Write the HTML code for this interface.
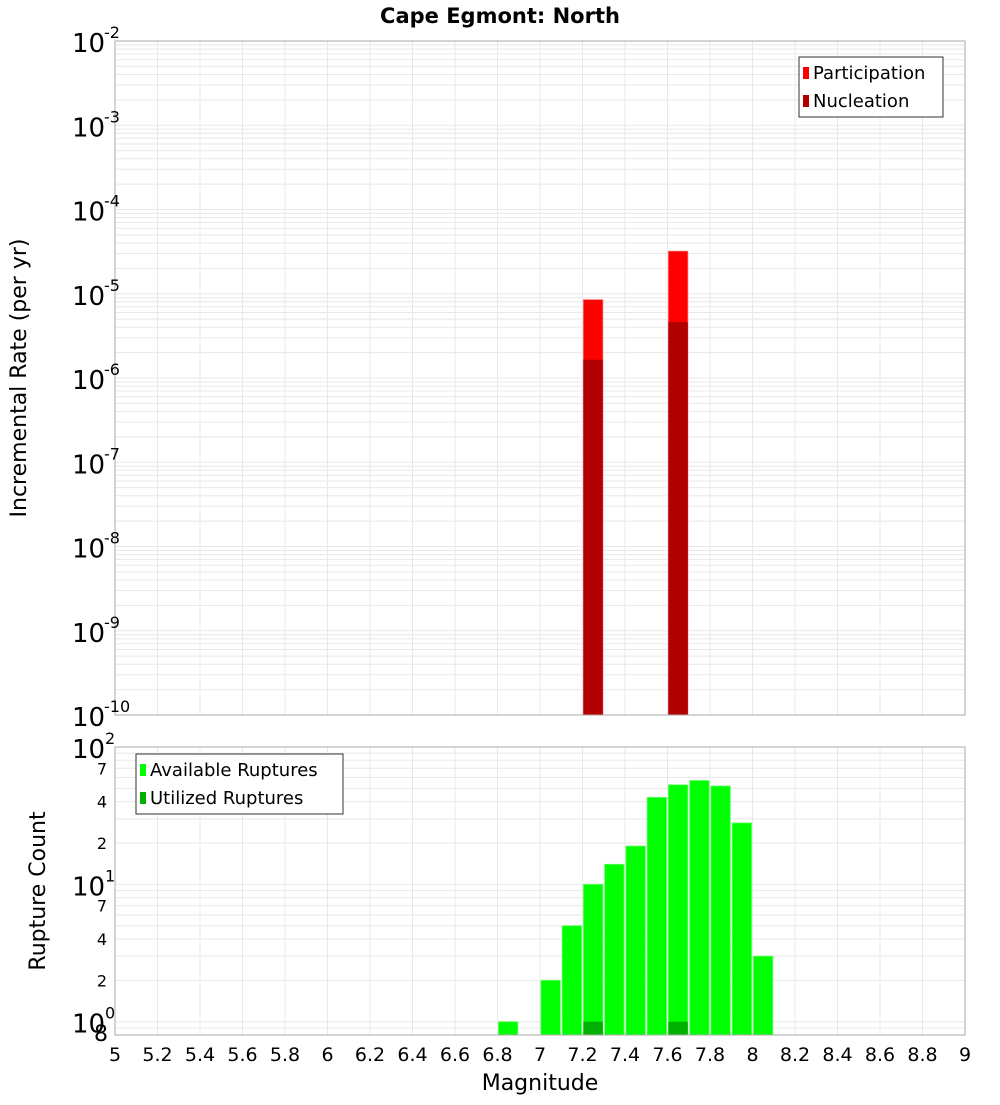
<!DOCTYPE html>
<html><head><meta charset="utf-8"><style>
body{margin:0;background:#fff;}
svg text{font-family:"DejaVu Sans","Liberation Sans",sans-serif;fill:#000;}
</style></head><body>
<svg id="c" width="1000" height="1100" xmlns="http://www.w3.org/2000/svg">
<text x="500" y="23" text-anchor="middle" font-size="21" font-weight="bold">Cape Egmont: North</text>
<g id="g1"></g>
<g id="g2"></g>
<text transform="translate(26,378) rotate(-90)" text-anchor="middle" font-size="22">Incremental Rate (per yr)</text>
<text transform="translate(45,891) rotate(-90)" text-anchor="middle" font-size="22">Rupture Count</text>
<text x="540" y="1090" text-anchor="middle" font-size="22">Magnitude</text>
</svg>
<script>
const partMags=[7.25,7.65];
const partRates=[8.5e-6,3.2e-5];
const nuclRates=[1.65e-6,4.6e-6];
const countMags=[6.85,7.05,7.15,7.25,7.35,7.45,7.55,7.65,7.75,7.85,7.95,8.05];
const availCounts=[1,2,5,10,14,19,43,53,57,52,28,3];
const usedMags=[7.25,7.65];
const usedCounts=[1,1];
const xTicks=[5,5.2,5.4,5.6,5.8,6,6.2,6.4,6.6,6.8,7,7.2,7.4,7.6,7.8,8,8.2,8.4,8.6,8.8,9];
const topExps=[-2,-3,-4,-5,-6,-7,-8,-9,-10];
const botMinor=[2,4,7,20,40,70];

const NS='http://www.w3.org/2000/svg';
const X0=115,X1=965;
const T0=41,T1=715,B0=747,B1=1035;
function sx(m){return X0+(m-5)/4*(X1-X0);}
function ty(v){return T0+(-2-Math.log10(v))/8*(T1-T0);}
function by(v){return B0+(2-Math.log10(v))/(2-Math.log10(0.8))*(B1-B0);}
function mk(p,tag,a){const e=document.createElementNS(NS,tag);for(const k in a)e.setAttribute(k,a[k]);p.appendChild(e);return e;}
const g1=document.getElementById('g1'),g2=document.getElementById('g2');

function grid(g,y0,y1,yf,lo,hi){
  for(const t of xTicks){const l=mk(g,'line',{x1:sx(t),x2:sx(t),y1:y0,y2:y1,stroke:'#e8e8e8'});
    
    }
  for(let e=lo;e<hi;e++)for(let k=1;k<10;k++){const v=k*Math.pow(10,e);const y=yf(v);if(y<y0-0.5||y>y1+0.5)continue;
    const l=mk(g,'line',{x1:X0,x2:X1,y1:y,y2:y,stroke:'#e8e8e8'});
    
    }
}
grid(g1,T0,T1,ty,-10,-1);
grid(g2,B0,B1,by,-1,3);

// top bars
const bw=19.4;
partMags.forEach((m,i)=>{
  const r=mk(g1,'rect',{x:sx(m)-bw/2,y:ty(partRates[i]),width:bw,height:T1-ty(partRates[i]),fill:'#ff0000',stroke:'#ff6060','stroke-width':0.8});
  
  
  const n=mk(g1,'rect',{x:sx(m)-bw/2,y:ty(nuclRates[i]),width:bw,height:T1-ty(nuclRates[i]),fill:'#b00000'});
  
  
});
// bottom bars
countMags.forEach((m,i)=>{
  const r=mk(g2,'rect',{x:sx(m)-bw/2,y:by(availCounts[i]),width:bw,height:B1-by(availCounts[i]),fill:'#00ff00',stroke:'#60ff60','stroke-width':0.8});
  
  
});
usedMags.forEach((m,i)=>{
  const r=mk(g2,'rect',{x:sx(m)-bw/2,y:by(usedCounts[i]),width:bw,height:B1-by(usedCounts[i]),fill:'#00b000'});
  
  
});
// frames
[[T0,T1],[B0,B1]].forEach(([a,b],i)=>{const r=mk(i?g2:g1,'rect',{x:X0,y:a,width:X1-X0,height:b-a,fill:'none',stroke:'#aaaaaa'});
  
  });

// top y labels
topExps.forEach(e=>{const y=ty(Math.pow(10,e));
  const t=mk(g1,'text',{x:72,y:y+11,'font-size':26});t.textContent='10';
  
  
  const s=mk(g1,'text',{x:104,y:y-3,'font-size':16});s.textContent=String(e);
  
  });
// bottom y labels
[2,1,0].forEach(e=>{const y=by(Math.pow(10,e));
  const t=mk(g2,'text',{x:72,y:y+11,'font-size':26});t.textContent='10';
  
  
  const s=mk(g2,'text',{x:105,y:y-3,'font-size':16});s.textContent=String(e);
  
  });
botMinor.forEach(v=>{const t=mk(g2,'text',{x:107,y:by(v)+6,'font-size':16,'text-anchor':'end'});t.textContent=String(String(v)[0]);
  
  });
{const t=mk(g2,'text',{x:108,y:1041,'font-size':22,'text-anchor':'end'});t.textContent='8';
  
  }
// x labels
xTicks.forEach(t=>{const e=mk(g2,'text',{x:sx(t),y:1061,'font-size':19,'text-anchor':'middle'});e.textContent=String(t);
  
  });

// legends
function legend(g,x,y,w,items){const r=mk(g,'rect',{x:x,y:y,width:w,height:60,fill:'#fff',stroke:'#333'});
  
  
  items.forEach((it,i)=>{const sw=mk(g,'rect',{x:x+4,y:y+10+i*28,width:6,height:12,fill:it[1]});
    
    
    const t=mk(g,'text',{x:x+14,y:y+22+i*28,'font-size':18});t.textContent=it[0];
    
    });}
legend(g1,799,57,144,[['Participation','#ff0000'],['Nucleation','#b00000']]);
legend(g2,136,754,207,[['Available Ruptures','#00ff00'],['Utilized Ruptures','#00b000']]);
</script>
</body></html>
